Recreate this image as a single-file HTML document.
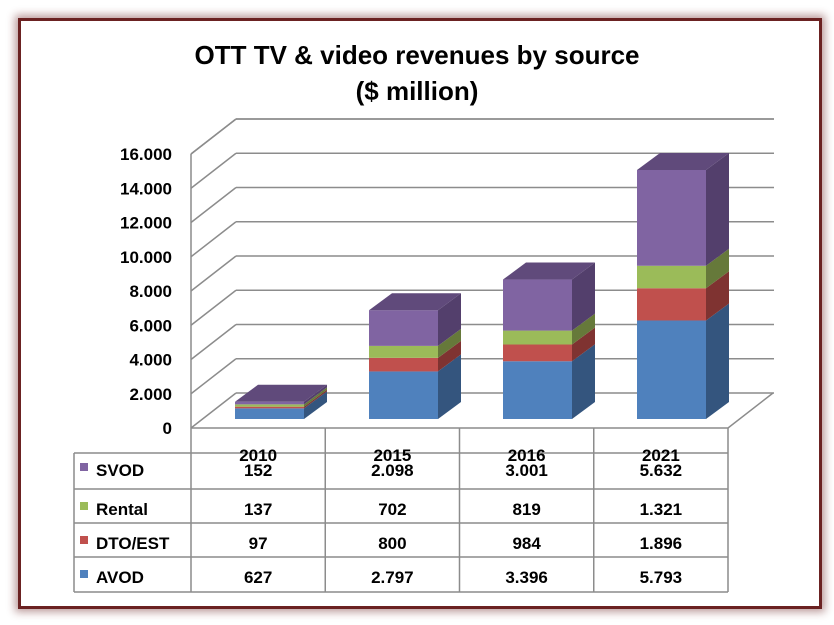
<!DOCTYPE html>
<html><head><meta charset="utf-8"><style>
html,body{margin:0;padding:0;background:#fff;}
body{width:834px;height:625px;position:relative;overflow:hidden;font-family:"Liberation Sans",Arial,sans-serif;}
#frame{position:absolute;left:18px;top:18px;width:798px;height:585px;border:3px solid #6b2222;box-shadow:0 0 8px 3px rgba(107,34,34,0.45);background:#fff;}
svg{position:absolute;left:0;top:0;}
</style></head><body>
<div id="frame"></div>
<svg id="chart" width="834" height="625" font-family="Liberation Sans, Arial, sans-serif">
<text x="417" y="64" text-anchor="middle" font-size="26" font-weight="bold">OTT TV &amp; video revenues by source</text>
<text x="417" y="100" text-anchor="middle" font-size="26" font-weight="bold">($ million)</text>
<g id="grid"></g><g id="bars"></g><g id="table"></g>
</svg>
<script>
const categories=["2010","2015","2016","2021"];
const seriesNames=["AVOD","DTO/EST","Rental","SVOD"];
const avod=[627,2797,3396,5793];
const dto=[97,800,984,1896];
const rental=[137,702,819,1321];
const svod=[152,2098,3001,5632];
const tickLabels=["0","2.000","4.000","6.000","8.000","10.000","12.000","14.000","16.000"];
const tickValues=[0,2000,4000,6000,8000,10000,12000,14000,16000];
const tableLabels=["SVOD","Rental","DTO/EST","AVOD"];
const tableText=[["152","2.098","3.001","5.632"],["137","702","819","1.321"],["97","800","984","1.896"],["627","2.797","3.396","5.793"]];

const NS="http://www.w3.org/2000/svg";
function mk(tag,attrs,parent){const e=document.createElementNS(NS,tag);for(const k in attrs)e.setAttribute(k,attrs[k]);parent.appendChild(e);return e;}
const grid=document.getElementById('grid'),bars=document.getElementById('bars'),table=document.getElementById('table');
const fx0=191,fx1=728,DX=45,DY=35,floorY=428,tickStep=34.25/2000;
function gy(v){return floorY-v*tickStep;}
// grid
tickValues.forEach((v,i)=>{
 const y=gy(v);
 const d=mk('line',{x1:fx0,y1:y,x2:fx0+DX,y2:y-DY,stroke:'#8c8c8c','stroke-width':1.5},grid);
 
 const l=mk('line',{x1:fx0+DX,y1:y-DY,x2:fx1+DX+1,y2:y-DY,stroke:'#8c8c8c','stroke-width':1.5},grid);
 
 const t=mk('text',{x:172,y:y+6,'text-anchor':'end','font-size':17,'font-weight':'bold'},grid);
 t.textContent=tickLabels[i];
 
});
{const y=gy(18000);
 const d=mk('line',{x1:fx0,y1:gy(16000),x2:fx0+DX,y2:y-DY+34.25-34.25,stroke:'#8c8c8c','stroke-width':1.5},grid);
 
 const l=mk('line',{x1:fx0+DX,y1:gy(16000)-DY,x2:fx1+DX+1,y2:gy(16000)-DY,stroke:'#8c8c8c','stroke-width':1.5},grid);
 
 d.setAttribute('y2',gy(16000)-DY);}
const ax=mk('line',{x1:fx0,y1:gy(16000),x2:fx0,y2:floorY,stroke:'#8c8c8c','stroke-width':1.5},grid);

const fl=mk('polyline',{points:`${fx0},${floorY} ${fx1},${floorY} ${fx1+DX},${floorY-DY}`,fill:'none',stroke:'#8c8c8c','stroke-width':1.5},grid);

for(let i=0;i<=4;i++){const x=fx0+i*(fx1-fx0)/4;
 const v=mk('line',{x1:x,y1:floorY,x2:x,y2:592,stroke:'#8c8c8c','stroke-width':1.5},grid);
 }
// bars
const colors=[["#4f81bd","#34557e","#3f6898"],["#c0504d","#7f3331","#9a403d"],["#9bbb59","#66793a","#7d9648"],["#8064a2","#533f6c","#634e80"]];
const series=[avod,dto,rental,svod];
const barK=249/14642,base=419,bw=69,bdx=23,bdy=17;
categories.forEach((c,ci)=>{
 const x=235+ci*134;let acc=0;
 series.forEach((s,si)=>{
  const y0=base-acc*barK;acc+=s[ci];const y1=base-acc*barK;
  const f=mk('rect',{x:x,y:y1,width:bw,height:y0-y1,fill:colors[si][0]},bars);
  
  const sd=mk('polygon',{points:`${x+bw},${y0} ${x+bw+bdx},${y0-bdy} ${x+bw+bdx},${y1-bdy} ${x+bw},${y1}`,fill:colors[si][1]},bars);
  
  if(si===series.length-1){
   const tp=mk('polygon',{points:`${x},${y1} ${x+bdx},${y1-bdy} ${x+bw+bdx},${y1-bdy} ${x+bw},${y1}`,fill:'#604a7b'},bars);
   }
 });
});
// table
const rows=[453,489,523,557,592];
rows.forEach(y=>{const l=mk('line',{x1:74,y1:y,x2:fx1,y2:y,stroke:'#8c8c8c','stroke-width':1.5},table);
 });
const lv=mk('line',{x1:74,y1:453,x2:74,y2:592,stroke:'#8c8c8c','stroke-width':1.5},table);

categories.forEach((c,i)=>{const t=mk('text',{x:fx0+(i+0.5)*134.25,y:461,'text-anchor':'middle','font-size':17,'font-weight':'bold'},table);
 t.textContent=c;});
const keyCols=["#8064a2","#9bbb59","#c0504d","#4f81bd"];
tableLabels.forEach((lab,r)=>{
 const yb=rows[r]+(r===0?23:26);
 const k=mk('rect',{x:80,y:yb-13,width:8,height:8,fill:keyCols[r]},table);
 
 const t=mk('text',{x:96,y:yb,'font-size':17,'font-weight':'bold'},table);t.textContent=lab;
 
 tableText[r].forEach((v,i)=>{const tt=mk('text',{x:fx0+(i+0.5)*134.25,y:yb,'text-anchor':'middle','font-size':17,'font-weight':'bold'},table);
  tt.textContent=v;});
});
</script>
</body></html>
